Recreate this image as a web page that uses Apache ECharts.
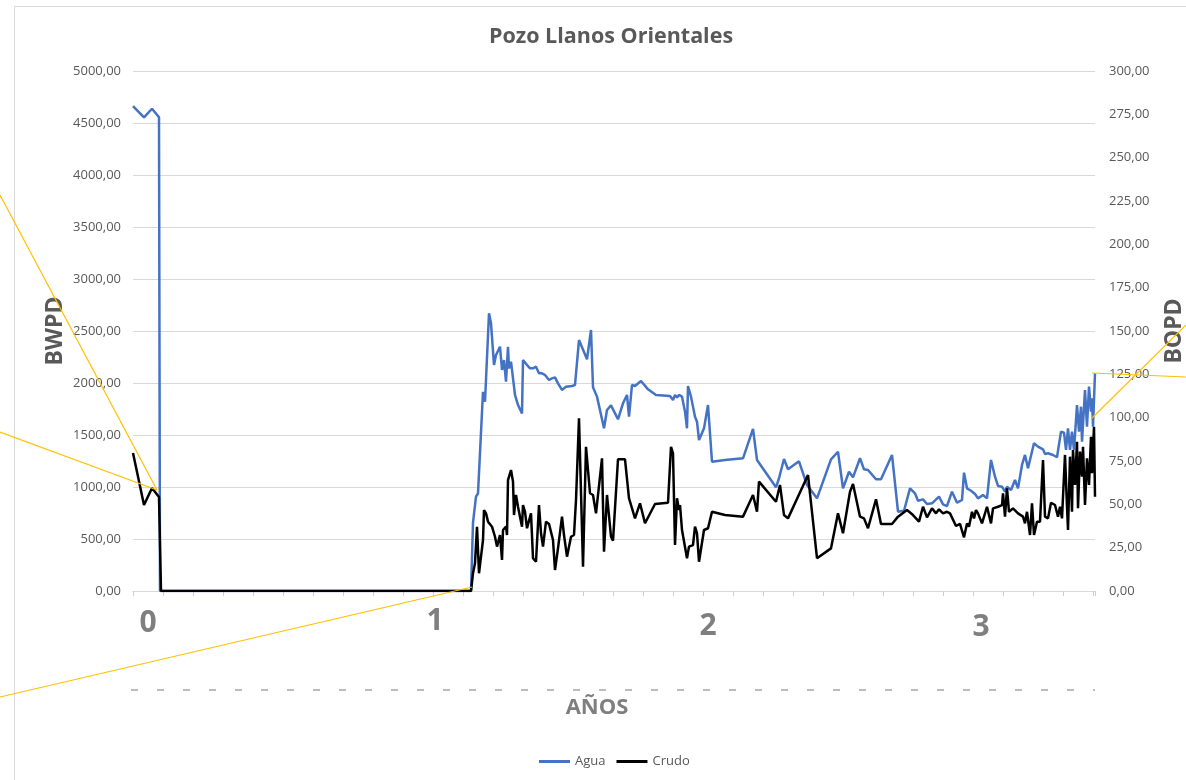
<!DOCTYPE html>
<html>
<head>
<meta charset="utf-8">
<script src="https://cdn.jsdelivr.net/npm/echarts@6/dist/echarts.min.js"></script>
<style>
html,body{margin:0;padding:0;background:#fff;}
#main{width:1186px;height:780px;}
</style>
</head>
<body>
<div id="main"></div>
<script>
// x values: days from start of record (axis ticks every 30 days)
const aguaDays = [0,11,19,26,27,338,340,341,343,345,346,350,352,356,358,361,363,365,367,369,371,373,375,376,378,382,385,389,390,394,397,400,403,406,409,412,416,419,422,425,429,433,435,439,442,446,454,458,460,464,471,474,478,480,485,490,494,496,499,502,508,515,523,537,540,542,544,546,549,552,554,555,558,562,564,566,571,575,579,592,610,620,624,626,643,646,651,655,666,674,684,698,705,710,716,720,727,731,735,743,748,759,765,771,777,782,785,790,794,799,806,810,814,819,824,829,831,834,838,842,845,847,850,854,858,862,865,869,872,874,878,882,885,889,892,895,901,905,910,912,915,920,924,928,931,933,935,937,939,941,944,946,948,949,952,954,956,958,959,960,962];
const aguaBWPD = [4663,4555,4637,4555,0,0,657,666,907,939,955,1916,1820,2670,2574,2173,2269,2285,2349,2125,2221,2012,2349,2141,2205,1885,1788,1708,2221,2173,2141,2141,2157,2093,2093,2077,2029,2045,2054,1997,1933,1965,1958,1971,1981,2413,2228,2510,1960,1869,1564,1740,1785,1772,1651,1805,1885,1676,1981,1971,2019,1939,1885,1875,1836,1885,1862,1885,1869,1724,1564,1971,1869,1676,1628,1452,1564,1788,1243,1260,1276,1558,1260,1276,997,1084,1269,1170,1247,1019,891,1266,1339,987,1147,1093,1276,1170,1163,1074,1074,1308,763,772,987,939,868,881,836,843,907,833,817,955,849,875,1138,987,964,932,891,907,923,891,1260,1099,1010,1003,955,1003,971,1067,987,1212,1308,1180,1420,1388,1362,1317,1324,1308,1286,1532,1522,1356,1564,1356,1532,1356,1788,1532,1772,1436,1933,1580,1965,1724,1853,1580,2093];

const crudoDays = [0,11,19,26,28,338,340,342,344,346,348,350,351,353,355,357,359,362,364,367,369,370,373,374,375,378,380,381,383,385,389,390,392,394,396,398,400,403,406,408,410,413,416,420,422,425,429,431,434,438,441,443,446,450,453,457,460,463,469,471,474,478,480,485,492,496,502,507,512,522,535,538,540,542,544,546,547,549,554,556,560,562,564,566,571,575,579,592,610,620,624,626,643,647,651,655,675,684,698,705,710,717,720,727,731,735,743,748,759,765,774,780,786,790,794,799,803,806,810,814,817,823,827,831,834,836,839,841,843,845,849,854,858,860,865,869,870,872,874,876,880,885,890,892,894,897,899,901,904,907,910,912,915,918,922,925,927,929,930,932,934,935,937,939,940,942,944,945,947,949,950,952,954,956,958,959,961,962];
const crudoBOPD = [79.6,49.6,59.4,54.2,0,0,10.2,16,37.1,10.2,19.8,29.4,46.7,44.8,40,41,37.1,31.3,25.6,32.3,17.9,35.2,37.1,32.3,64,69.8,63.1,43.8,55.4,48.6,37.1,49.6,45.7,36.2,36.2,44.8,18.9,16.9,49.6,33.3,25.6,40,38.7,29.4,12.1,24.6,42.9,32.3,19.8,31.3,32.3,52.5,99.6,14,83.2,56.4,55.4,44.8,76.5,22.7,55.4,31.3,29,76,76,53.5,41.9,50.6,39.1,50.2,50.9,83.2,79.4,26.5,53.5,46.7,49.6,35.2,18.9,25.6,26.5,37.1,33.3,16.9,35.2,36.2,45.7,43.8,42.9,55.4,45.7,63.1,51.5,61.2,43.8,41.9,66.9,18.9,24.6,44.8,33.3,57.3,61.7,42.9,41.9,36.2,52.9,38.7,38.7,42.9,46.7,43.8,40,48.6,42.5,47.7,44.8,47.1,44.8,45.7,44.8,37.5,38.7,31,39,37.1,45.7,41.9,46.7,44.8,39,48.6,39,47.7,48.6,49.6,56.4,42.9,59.2,45.7,47.7,44.8,42.9,39,45.7,32.3,50.6,32.3,40,40,75.6,42.9,41.9,50.9,49.6,42.9,48.6,41.9,54.4,78.5,48.6,35.2,77.5,45.7,81.3,61.2,86.1,47.7,80.4,65.9,83.2,49.6,76.5,61.2,89,67.9,94.8,54.4];

const seriesNames = ['Agua', 'Crudo'];
const yearLabels = ['0', '1', '2', '3'];
const chartTitle = 'Pozo Llanos Orientales';

const aguaData = aguaDays.map((d, i) => [d, aguaBWPD[i]]);
const crudoData = crudoDays.map((d, i) => [d, crudoBOPD[i]]);

const fmt = v => v.toFixed(2).replace('.', ',');
const FONT = 'Open Sans';
const GRAY = '#595959';
const GRAY2 = '#7f7f7f';
const YEL = '#FFC000';

const chart = echarts.init(document.getElementById('main'));
const yearPos = [[148, 623], [435, 621], [708, 626], [981, 627]];

chart.setOption({
  animation: false,
  backgroundColor: '#fff',
  title: {
    text: chartTitle, left: 606, top: 21, textAlign: 'center',
    textStyle: { fontFamily: FONT, fontSize: 21.5, fontWeight: 'bold', color: GRAY }
  },
  legend: {
    data: seriesNames, left: 539, top: 755, padding: 0,
    icon: 'rect', itemWidth: 31, itemHeight: 3, itemGap: 11,
    textStyle: { fontFamily: FONT, fontSize: 13, color: GRAY }
  },
  grid: { left: 133, right: 91, top: 71, bottom: 189, outerBoundsMode: 'none', containLabel: false },
  xAxis: {
    type: 'value', min: 0, max: 962, interval: 30,
    name: 'AÑOS', nameLocation: 'middle', nameGap: 106,
    nameTextStyle: { fontFamily: FONT, fontSize: 22, fontWeight: 'bold', color: GRAY2, padding: [0, 34, 0, 0] },
    axisLine: { show: true, lineStyle: { color: '#d9d9d9', width: 1 } },
    axisTick: { show: true, length: 5, lineStyle: { color: '#cfcfcf' } },
    axisLabel: { show: false },
    splitLine: { show: false }
  },
  yAxis: [
    {
      type: 'value', min: 0, max: 5000, interval: 500, position: 'left',
      name: 'BWPD', nameLocation: 'middle', nameGap: 66, nameRotate: 90, nameMoveOverlap: false,
      nameTextStyle: { fontFamily: FONT, fontSize: 23, fontWeight: 'bold', color: GRAY },
      axisLine: { show: false }, axisTick: { show: false },
      axisLabel: { formatter: fmt, fontFamily: FONT, fontSize: 13, color: GRAY, margin: 12 },
      splitLine: { show: true, lineStyle: { color: '#d9d9d9', width: 1 } }
    },
    {
      type: 'value', min: 0, max: 300, interval: 25, position: 'right',
      name: 'BOPD', nameLocation: 'middle', nameGap: 68, nameRotate: 90,
      nameTextStyle: { fontFamily: FONT, fontSize: 23, fontWeight: 'bold', color: GRAY },
      axisLine: { show: false }, axisTick: { show: false },
      axisLabel: { formatter: fmt, fontFamily: FONT, fontSize: 13, color: GRAY, margin: 14 },
      splitLine: { show: false }
    }
  ],
  series: [
    {
      name: seriesNames[0], type: 'line', yAxisIndex: 0, data: aguaData,
      symbol: 'none', lineStyle: { color: '#4472C4', width: 2.5 }, itemStyle: { color: '#4472C4' }, z: 3
    },
    {
      name: seriesNames[1], type: 'line', yAxisIndex: 1, data: crudoData,
      symbol: 'none', lineStyle: { color: '#000000', width: 2.5 }, itemStyle: { color: '#000000' }, z: 4
    }
  ],
  graphic: [
    { type: 'rect', silent: true, z: -10, shape: { x: 14.5, y: 6.5, width: 1300, height: 900 }, style: { fill: 'none', stroke: '#d9d9d9', lineWidth: 1 } },
    { type: 'line', silent: true, z: 100, shape: { x1: 0, y1: 195, x2: 157, y2: 490 }, style: { stroke: YEL, lineWidth: 1.2 } },
    { type: 'line', silent: true, z: 100, shape: { x1: 0, y1: 432, x2: 157, y2: 490 }, style: { stroke: YEL, lineWidth: 1.2 } },
    { type: 'line', silent: true, z: 100, shape: { x1: 0, y1: 697, x2: 472, y2: 587 }, style: { stroke: YEL, lineWidth: 1.2 } },
    { type: 'line', silent: true, z: 100, shape: { x1: 1092, y1: 418, x2: 1186, y2: 325 }, style: { stroke: YEL, lineWidth: 1.2 } },
    { type: 'line', silent: true, z: 100, shape: { x1: 1092, y1: 373, x2: 1186, y2: 377 }, style: { stroke: YEL, lineWidth: 1.2 } },
    { type: 'line', silent: true, z: 1, shape: { x1: 131, y1: 690, x2: 1095, y2: 690 }, style: { stroke: '#a6a6a6', lineWidth: 1.5, lineDash: [7, 19] } }
  ].concat(yearLabels.map((t, i) => ({
    type: 'text', silent: true, z: 5, x: yearPos[i][0], y: yearPos[i][1],
    style: { text: t, fontFamily: FONT, fontSize: 30, fontWeight: 'bold', fill: GRAY2, align: 'center', verticalAlign: 'middle' }
  })))
});
</script>
</body>
</html>
